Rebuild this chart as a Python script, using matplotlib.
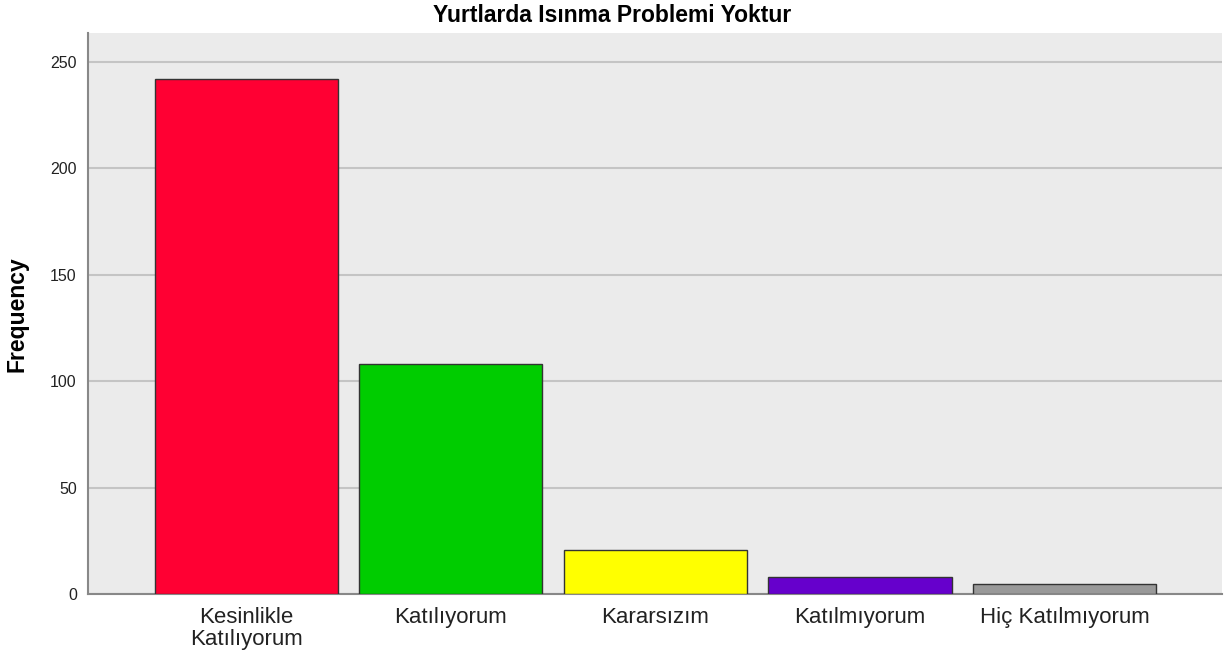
import matplotlib.pyplot as plt
import numpy as np

plt.rcParams['font.family'] = ['Liberation Sans', 'DejaVu Sans']

categories = ['Kesinlikle\nKatılıyorum', 'Katılıyorum', 'Kararsızım', 'Katılmıyorum', 'Hiç Katılmıyorum']
frequency = [242, 108, 21, 8, 5]
colors = ['#FF0033', '#00CC00', '#FFFF00', '#6600CC', '#999999']
yticks = [0, 50, 100, 150, 200, 250]

fig = plt.figure(figsize=(12.27, 6.6), dpi=100)
ax = fig.add_axes([0.0717, 0.0995, 0.9242, 0.8505])
ax.set_facecolor('#EBEBEB')

x = np.arange(len(categories))
ax.bar(x, frequency, width=0.895, color=colors, edgecolor='#333333', linewidth=1, zorder=3)

ax.set_xlim(-0.775, 4.77)
ax.set_ylim(0, 263.5)
ax.set_yticks(yticks)
ax.set_xticks(x)
ax.set_xticklabels(categories, fontsize=16, color='#222222', linespacing=1.05)
ax.tick_params(axis='x', length=0, pad=9)
ax.tick_params(axis='y', length=0, pad=8, labelsize=11.5, labelcolor='#222222')
ax.grid(axis='y', color='#C4C4C4', linewidth=1.5, zorder=1)

for side in ['top', 'right']:
    ax.spines[side].set_visible(False)
for side in ['left', 'bottom']:
    ax.spines[side].set_color('#888888')
    ax.spines[side].set_linewidth(1.5)

ax.set_ylabel('Frequency', fontsize=16.5, fontweight='bold', labelpad=16)
fig.text(0.499, 0.977, 'Yurtlarda Isınma Problemi Yoktur', fontsize=16.5, fontweight='bold',
         ha='center', va='center')

fig.savefig('out.png', dpi=100)
